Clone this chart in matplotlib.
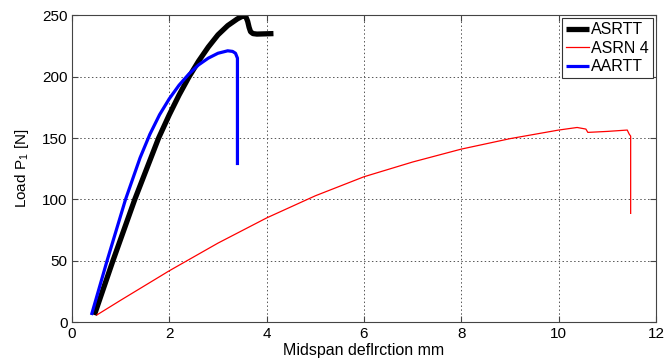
import matplotlib
matplotlib.use("Agg")
import matplotlib.pyplot as plt

plt.rcParams['font.family'] = ['Liberation Sans', 'DejaVu Sans']
plt.rcParams['mathtext.fontset'] = 'custom'
plt.rcParams['mathtext.rm'] = 'Liberation Sans'
plt.rcParams['mathtext.it'] = 'Liberation Sans'

# ASRTT (black)
asrtt_x = [0.46, 0.84, 1.29, 1.78, 2.00, 2.20, 2.40, 2.60, 2.80, 3.00, 3.20, 3.40, 3.52, 3.57, 3.61, 3.64, 3.67, 3.72, 3.80, 4.14]
asrtt_y = [6.0, 50.0, 100.0, 150.0, 169.0, 185.0, 199.5, 212.5, 224.0, 234.0, 241.5, 247.0, 249.5, 249.0, 245.0, 240.0, 236.5, 235.0, 234.6, 235.0]

# ASRN 4 (red)
asrn_x = [0.51, 1.00, 2.00, 3.00, 4.00, 5.00, 6.00, 7.00, 8.00, 9.00, 10.00, 10.38, 10.56, 10.60, 11.00, 11.41, 11.45, 11.48, 11.48]
asrn_y = [6.0, 18.0, 42.0, 64.5, 85.0, 103.0, 118.5, 130.5, 141.0, 149.5, 156.5, 158.6, 157.3, 154.6, 155.4, 156.5, 153.2, 151.6, 88.7]

# AARTT (blue)
aartt_x = [0.40, 0.72, 1.10, 1.40, 1.60, 1.80, 2.00, 2.20, 2.40, 2.60, 2.80, 3.00, 3.20, 3.30, 3.36, 3.40, 3.40]
aartt_y = [6.0, 50.0, 100.0, 134.0, 153.0, 169.0, 182.0, 193.0, 202.0, 209.5, 215.0, 219.0, 221.0, 220.5, 219.0, 215.0, 128.0]

x_ticks = [0, 2, 4, 6, 8, 10, 12]
y_ticks = [0, 50, 100, 150, 200, 250]

fig = plt.figure(figsize=(6.64, 3.61), dpi=100)
ax = fig.add_axes([0.1084, 0.107, 0.8795, 0.851])

ax.plot(asrtt_x, asrtt_y, color='black', lw=3.8, label='ASRTT', solid_capstyle='butt', solid_joinstyle='round')
ax.plot(asrn_x, asrn_y, color='red', lw=0.9, label='ASRN 4')
ax.plot(aartt_x, aartt_y, color='blue', lw=2.3, label='AARTT', solid_capstyle='butt', solid_joinstyle='round')

ax.set_xlim(0, 12)
ax.set_ylim(0, 250)
ax.set_xticks(x_ticks)
ax.set_yticks(y_ticks)
ax.tick_params(direction='in', labelsize=11, top=True, right=True, length=4, color='#444444', pad=3)
ax.grid(True, linestyle=(0, (1.5, 2.5)), color='#555555', linewidth=0.7)
for s in ax.spines.values():
    s.set_color('#444444')
    s.set_linewidth(0.8)

ax.set_xlabel('Midspan deflrction mm', fontsize=11.5, va='top')
ax.xaxis.set_label_coords(0.5, -0.066)
ax.set_ylabel('Load P$_{1}$ [N]', fontsize=11, va='bottom')
ax.yaxis.set_label_coords(-0.071, 0.5)

leg = ax.legend(loc='upper right', fontsize=11.5, fancybox=False, framealpha=1,
                edgecolor='#333333', handlelength=1.45, handletextpad=0.12,
                labelspacing=0.22, borderpad=0.25, borderaxespad=0.2)
leg.get_frame().set_linewidth(0.8)

fig.savefig('out.png', dpi=100)
